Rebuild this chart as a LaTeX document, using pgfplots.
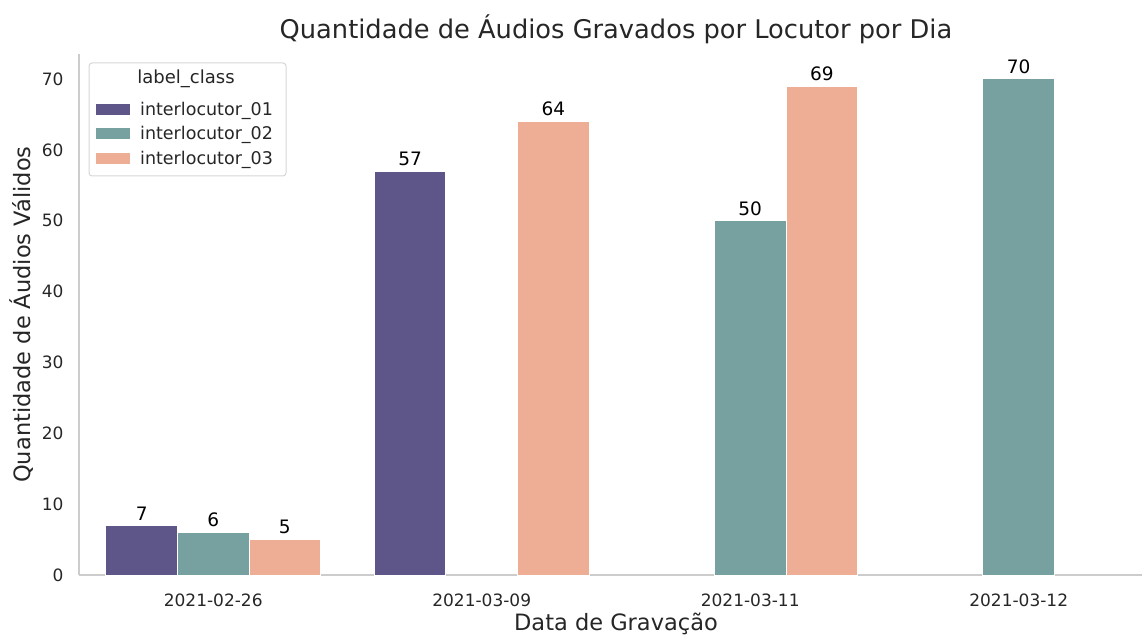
\documentclass[border=0pt]{standalone}
\usepackage{fontspec}
\setmainfont{DejaVu Sans}
\usepackage{pgfplots}
\pgfplotsset{compat=1.18}
\definecolor{cA}{HTML}{5E5689}
\definecolor{cB}{HTML}{76A1A0}
\definecolor{cC}{HTML}{EEAE96}
\definecolor{txt}{HTML}{262626}
\definecolor{spine}{HTML}{CCCCCC}
\begin{document}
\begin{tikzpicture}[x=1pt,y=1pt]
\path[use as bounding box] (0,0) rectangle (1142,634);
\begin{axis}[
  at={(79pt,59pt)}, anchor=south west,
  scale only axis, width=1074pt, height=520.8pt,
  xmin=-0.5, xmax=3.5, ymin=0, ymax=73.5,
  axis x line*=bottom, axis y line*=left,
  axis line style={spine, line width=1.2pt, -},
  major tick length=0pt,
  xtick={0,1,2,3},
  xticklabels={2021-02-26,2021-03-09,2021-03-11,2021-03-12},
  ytick={0,10,20,30,40,50,60,70},
  /pgf/number format/assume math mode=true,
  tick label style={font=\fontsize{17}{20}\selectfont, text=txt},
  yticklabel style={xshift=-12pt},
  xticklabel style={yshift=-15pt},
  ybar, bar shift=0pt, bar width=0.2667,
  every axis plot/.append style={draw=white, line width=1pt},
  nodes near coords,
  every node near coord/.append style={font=\fontsize{18.5}{20}\selectfont, text=black, yshift=1.5pt},
  legend style={at={(axis description cs:0.0158,0.912)}, anchor=north west, draw=none, fill=none,
    font=\fontsize{17.5}{20}\selectfont, text=txt, row sep=5.5pt, inner sep=0pt,
    /tikz/every odd column/.append style={column sep=8pt}},
  legend cell align=left,
  legend image code/.code={\fill[#1, draw=none] (0pt,-5.5pt) rectangle (34pt,5.5pt);},
  title={Quantidade de Áudios Gravados por Locutor por Dia},
  title style={font=\fontsize{25.7}{28}\selectfont, text=txt, at={(0.5,1)}, anchor=base, yshift=10pt},
  xlabel={Data de Gravação},
  ylabel={Quantidade de Áudios Válidos},
  label style={font=\fontsize{22.5}{25}\selectfont, text=txt},
  xlabel style={at={(axis description cs:0.5,-0.0935)}, anchor=center},
  ylabel style={at={(axis description cs:-0.0531,0.5)}, anchor=center},
]
\addplot[fill=cA] coordinates {(-0.2667,7) (0.7333,57)};
\addplot[fill=cB] coordinates {(0,6) (2,50) (3,70)};
\addplot[fill=cC] coordinates {(0.2667,5) (1.2667,64) (2.2667,69)};
\legend{interlocutor\_01,interlocutor\_02,interlocutor\_03}
\end{axis}
\draw[spine!80, line width=1pt, rounded corners=3pt] (89,634-63) rectangle (286,634-176);
\node[font=\fontsize{18}{20}\selectfont, text=txt] at (186,634-79) {label\_class};
\end{tikzpicture}
\end{document}
